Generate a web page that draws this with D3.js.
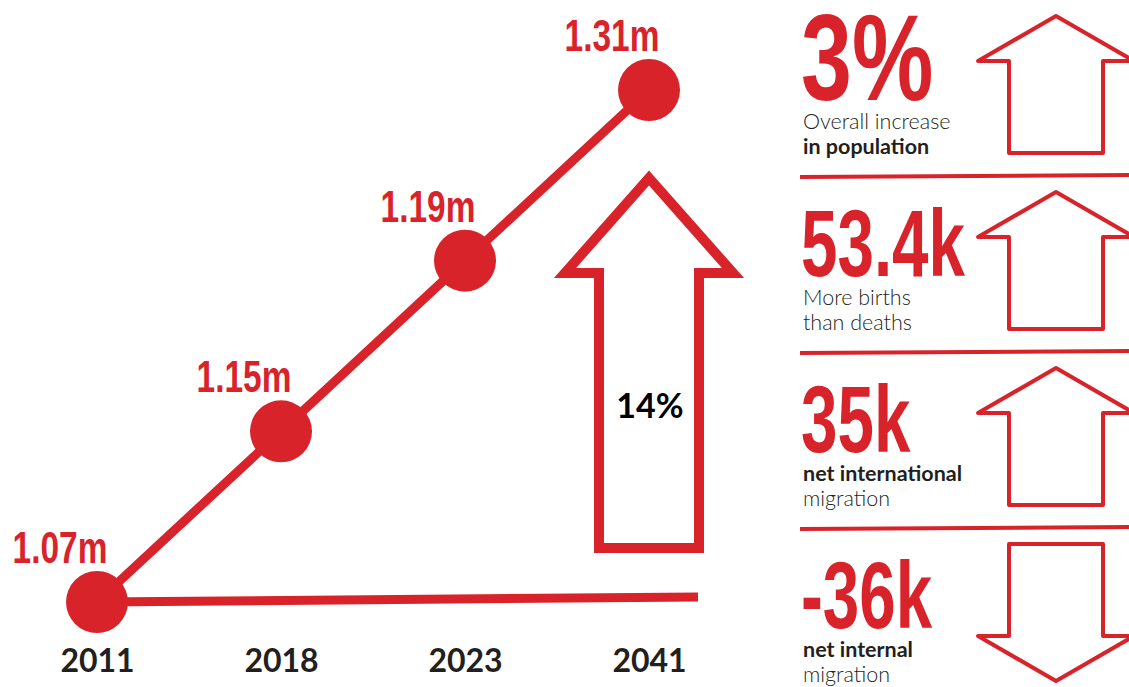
<!DOCTYPE html>
<html>
<head>
<meta charset="utf-8">
<script src="https://cdn.jsdelivr.net/npm/d3@7"></script>
<style>
  html, body { margin: 0; padding: 0; background: #fff; }
  svg { display: block; }
</style>
</head>
<body>
<svg id="chart" width="1129" height="687"></svg>
<script>
// Population projection points
const years = ["2011", "2018", "2023", "2041"];
const population = [1.07, 1.15, 1.19, 1.31];   // millions
const growthLabel = "14%";                       // 2018 -> 2041 growth

// Components of change
const statValues = [3, 53.4, 35, -36];
const statUnits = ["%", "k", "k", "k"];
const statLine1 = ["Overall increase", "More births", "net international", "net internal"];
const statLine2 = ["in population", "than deaths", "migration", "migration"];
const statLine1Bold = [false, false, true, true];
const statLine2Bold = [true, false, false, false];

const RED = "#d9232b";
const INK = "#231f20";
const CONDENSED = "'Liberation Sans', Arial, sans-serif";
const BODY = "Lato, 'Open Sans', sans-serif";

const svg = d3.select("#chart");

// ---- line chart ----
const x = d3.scalePoint().domain(years).range([97, 649]);
const y = d3.scalePoint().domain(population).range([602, 90]);

const pts = years.map((yr, i) => ({ year: yr, value: population[i] }));

// flat reference line from the first point
const base = pts[0];
svg.append("line")
  .attr("x1", x(base.year)).attr("y1", y(base.value))
  .attr("x2", x.range()[1] + 49).attr("y2", y(base.value) - 5)
  .attr("stroke", RED).attr("stroke-width", 9);

svg.append("path")
  .datum(pts)
  .attr("fill", "none")
  .attr("stroke", RED)
  .attr("stroke-width", 9)
  .attr("stroke-linejoin", "round")
  .attr("d", d3.line().x(d => x(d.year)).y(d => y(d.value)));

svg.selectAll("circle.pt")
  .data(pts).join("circle")
  .attr("class", "pt")
  .attr("cx", d => x(d.year)).attr("cy", d => y(d.value))
  .attr("r", 31).attr("fill", RED);

// value labels, condensed
svg.selectAll("g.vlab")
  .data(pts).join("g")
  .attr("class", "vlab")
  .attr("transform", d => `translate(${x(d.year) - 37},${y(d.value) - 39}) scale(0.76,1)`)
  .append("text")
  .attr("text-anchor", "middle")
  .attr("font-family", CONDENSED)
  .attr("font-weight", 700)
  .attr("font-size", 44)
  .attr("fill", RED)
  .text(d => d3.format(".2f")(d.value) + "m");

// year axis labels
const xAxis = d3.axisBottom(x).tickSize(0).tickPadding(0);
const ax = svg.append("g").attr("transform", "translate(0,672)").call(xAxis);
ax.select(".domain").remove();
ax.selectAll("text")
  .attr("font-family", BODY)
  .attr("font-weight", 700)
  .attr("font-size", 32)
  .attr("fill", INK)
  .attr("dy", 0);

// arrow outline helper: cx centre, top/bottom extent, head height, half widths
function arrowPath(cx, top, bottom, headH, headHalf, shaftHalf, up) {
  if (up) {
    const hb = top + headH;
    return `M${cx},${top} L${cx + headHalf},${hb} L${cx + shaftHalf},${hb} L${cx + shaftHalf},${bottom}` +
           ` L${cx - shaftHalf},${bottom} L${cx - shaftHalf},${hb} L${cx - headHalf},${hb} Z`;
  }
  const ht = bottom - headH;
  return `M${cx},${bottom} L${cx + headHalf},${ht} L${cx + shaftHalf},${ht} L${cx + shaftHalf},${top}` +
         ` L${cx - shaftHalf},${top} L${cx - shaftHalf},${ht} L${cx - headHalf},${ht} Z`;
}

// growth arrow under the last point
const gx = x(years[years.length - 1]);
svg.append("path")
  .attr("d", arrowPath(gx, 178, 548, 95, 84, 50, true))
  .attr("fill", "none").attr("stroke", RED).attr("stroke-width", 10)
  .attr("stroke-linejoin", "miter");
svg.append("text")
  .attr("x", gx + 1).attr("y", 418)
  .attr("text-anchor", "middle")
  .attr("font-family", BODY).attr("font-weight", 700).attr("font-size", 34)
  .attr("fill", "#000")
  .text(growthLabel);

// ---- stat panel ----
const rowH = 176;
const rows = statValues.map((v, i) => ({ i, v, top: i * rowH }));

const panel = svg.append("g");

panel.selectAll("line.sep")
  .data(rows.filter(r => r.i > 0)).join("line")
  .attr("class", "sep")
  .attr("x1", 800).attr("y1", r => r.top + 1)
  .attr("x2", 1129).attr("y2", r => r.top - 1)
  .attr("stroke", RED).attr("stroke-width", 4);

panel.selectAll("g.big")
  .data(rows).join("g")
  .attr("class", "big")
  .attr("transform", r => `translate(801,${r.top + 100}) scale(${r.i === 0 ? 0.75 : 0.69},1)`)
  .append("text")
  .attr("font-family", CONDENSED)
  .attr("font-weight", 700)
  .attr("font-size", r => r.i === 0 ? 122 : 95)
  .attr("fill", RED)
  .text(r => r.v + statUnits[r.i]);

panel.selectAll("text.l1")
  .data(rows).join("text")
  .attr("class", "l1")
  .attr("x", 803).attr("y", r => r.top + 129)
  .attr("font-family", BODY)
  .attr("font-weight", r => statLine1Bold[r.i] ? 700 : 300)
  .attr("font-size", 21.5)
  .attr("fill", INK)
  .text(r => statLine1[r.i]);

panel.selectAll("text.l2")
  .data(rows).join("text")
  .attr("class", "l2")
  .attr("x", 803).attr("y", r => r.top + 154)
  .attr("font-family", BODY)
  .attr("font-weight", r => statLine2Bold[r.i] ? 700 : 300)
  .attr("font-size", 21.5)
  .attr("fill", INK)
  .text(r => statLine2[r.i]);

panel.selectAll("path.dir")
  .data(rows).join("path")
  .attr("class", "dir")
  .attr("d", r => arrowPath(1056, r.top + 16, r.top + 153, 45, 78, 47, r.v >= 0))
  .attr("fill", "none").attr("stroke", RED).attr("stroke-width", 4)
  .attr("stroke-linejoin", "round");
</script>
</body>
</html>
